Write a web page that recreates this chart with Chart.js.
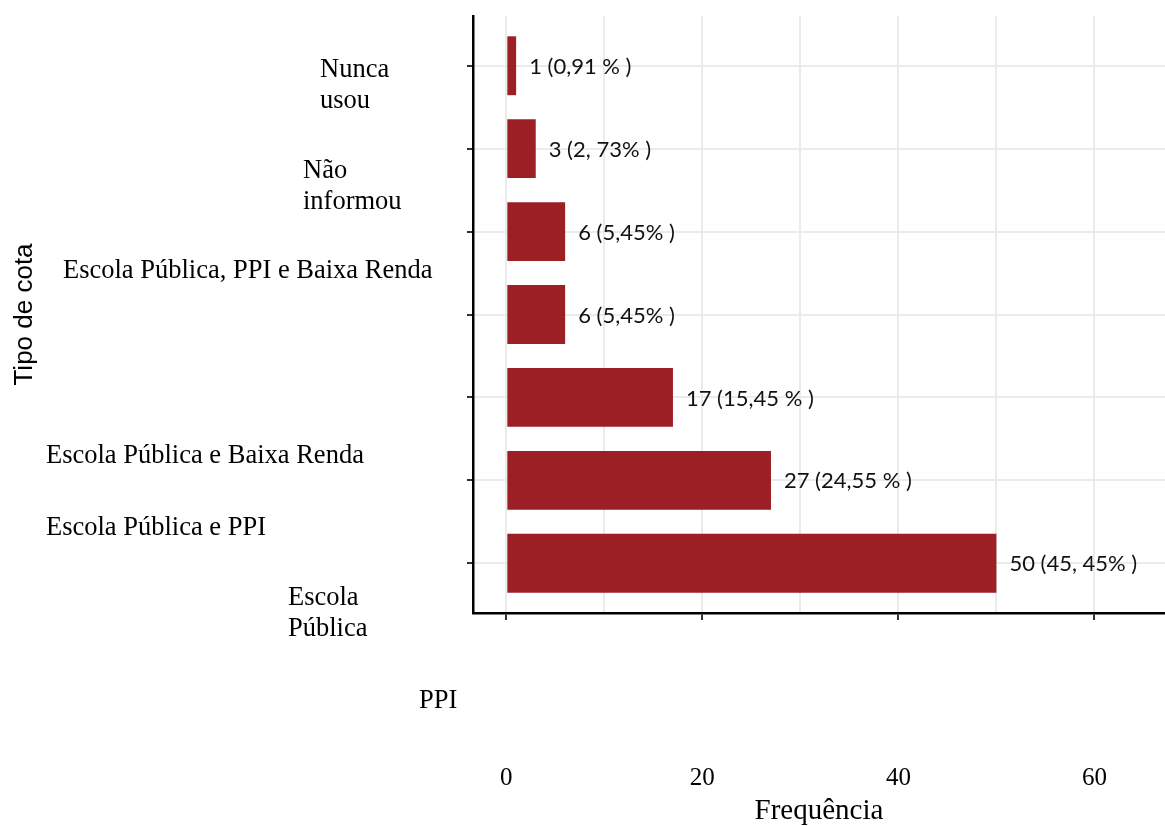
<!DOCTYPE html>
<html><head><meta charset="utf-8">
<script src="https://cdn.jsdelivr.net/npm/chart.js@4/dist/chart.umd.min.js"></script>
<style>html,body{margin:0;padding:0;background:#fff}#wrap{width:1165px;height:826px}</style>
</head><body><div id="wrap"><canvas id="c"></canvas></div>
<script>
// ---- data ----
const categories = [["Nunca", "usou"], ["Não", "informou"], ["Escola Pública, PPI e Baixa Renda"], ["Escola Pública e Baixa Renda"], ["Escola Pública e PPI"], ["Escola", "Pública"], ["PPI"]];
const frequencies = [1, 3, 6, 6, 17, 27, 50];
const barLabels = ["1 (0,91 % )", "3 (2, 73% )", "6 (5,45% )", "6 (5,45% )", "17 (15,45 % )", "27 (24,55 % )", "50 (45, 45% )"];
const xTickLabels = [0, 20, 40, 60];
const xTitle = "Frequência";
const yTitle = "Tipo de cota";

// ---- layout / style (not data) ----
const catLabelPos = [[320, 77], [303, 178], [63, 278], [46, 463], [46, 535], [288, 605], [419, 708]];
const catLineGap = 30.5;
const serif = "'Liberation Serif', 'Times New Roman', serif";

const categoryLabelsPlugin = {
  id: 'catLabels',
  afterDraw(chart) {
    const ctx = chart.ctx;
    ctx.save();
    ctx.fillStyle = '#000';
    ctx.font = "26.5px " + serif;
    ctx.textAlign = 'left';
    ctx.textBaseline = 'alphabetic';
    categories.forEach((lines, i) => {
      const [x, y] = catLabelPos[i];
      lines.forEach((t, k) => ctx.fillText(t, x, y + k * catLineGap));
    });
    ctx.restore();
  }
};

const barLabelsPlugin = {
  id: 'barLabels',
  afterDatasetsDraw(chart) {
    const ctx = chart.ctx;
    const meta = chart.getDatasetMeta(0);
    ctx.save();
    ctx.fillStyle = '#111';
    ctx.font = "22px Lato, 'Open Sans', sans-serif";
    ctx.textAlign = 'left';
    ctx.textBaseline = 'middle';
    meta.data.forEach((bar, i) => ctx.fillText(barLabels[i], bar.x + 13, bar.y + 1));
    ctx.restore();
  }
};

new Chart(document.getElementById('c'), {
  type: 'bar',
  data: {
    datasets: [{
      data: frequencies.map((v, i) => ({ x: v, y: i })),
      backgroundColor: '#9b1f24',
      borderWidth: 0,
      categoryPercentage: 1,
      barPercentage: 0.71
    }]
  },
  options: {
    indexAxis: 'y',
    responsive: true,
    maintainAspectRatio: false,
    animation: false,
    layout: { padding: { top: 16, left: 0, right: 0, bottom: 0 } },
    plugins: { legend: { display: false }, tooltip: { enabled: false } },
    scales: {
      x: {
        type: 'linear', position: 'bottom', min: -3.4, max: 67.2,
        afterFit(s) { s.height = 213; s.paddingLeft = 0; s.paddingRight = 0; },
        ticks: {
          stepSize: 10, includeBounds: false, autoSkip: false, maxRotation: 0, minRotation: 0,
          padding: 143, color: '#000', font: { family: serif, size: 25 },
          callback: v => xTickLabels.includes(v) ? String(v) : ''
        },
        grid: {
          color: '#ebebeb', lineWidth: 2, drawTicks: true, tickLength: 7, tickWidth: 2,
          tickColor: c => (c.tick && xTickLabels.includes(c.tick.value)) ? '#333' : 'rgba(0,0,0,0)'
        },
        border: { display: true, color: '#000', width: 2.5 },
        title: { display: true, text: xTitle, color: '#000', font: { family: serif, size: 29, lineHeight: 1 }, padding: { top: 0, bottom: 0 } }
      },
      y: {
        type: 'linear', position: 'left', reverse: true, min: -0.6, max: 6.6, offset: false,
        afterFit(s) { s.width = 473; s.paddingTop = 0; s.paddingBottom = 0; },
        ticks: { stepSize: 1, includeBounds: false, display: false },
        grid: { offset: false, color: '#ebebeb', lineWidth: 2, drawTicks: true, tickLength: 6, tickWidth: 2, tickColor: '#333' },
        border: { display: true, color: '#000', width: 2.5 },
        title: { display: true, text: yTitle, color: '#000', font: { family: "'Liberation Sans', Arial, sans-serif", size: 26, lineHeight: 1.2 }, padding: { top: 9, bottom: 0 } }
      }
    }
  },
  plugins: [barLabelsPlugin, categoryLabelsPlugin]
});
</script>
</body></html>
